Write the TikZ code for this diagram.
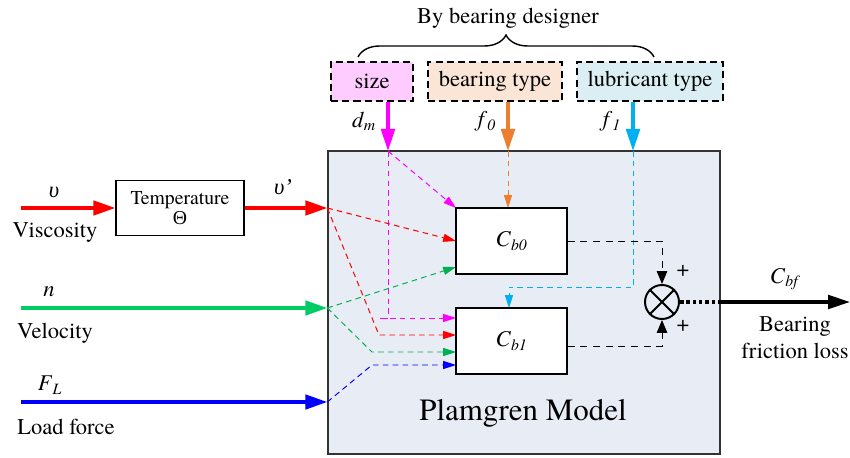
\documentclass[tikz,border=0pt]{standalone}
\usepackage{fontspec}
\setmainfont{TeX Gyre Termes}
\newfontfamily\greekfont{Liberation Serif}
\usepackage{tikz}
\usetikzlibrary{positioning,arrows.meta,calc,decorations.pathreplacing}
\usepackage{xcolor}
\definecolor{sizefill}{RGB}{255,204,255}
\definecolor{typefill}{RGB}{251,229,214}
\definecolor{lubfill}{RGB}{218,238,243}
\definecolor{modelfill}{RGB}{232,236,244}
\definecolor{magentac}{RGB}{255,0,255}
\definecolor{orangec}{RGB}{237,125,49}
\definecolor{cyanc}{RGB}{0,176,240}
\definecolor{greenc}{RGB}{0,204,102}
\definecolor{greend}{RGB}{0,176,80}
\definecolor{redc}{RGB}{255,0,0}
\definecolor{bluec}{RGB}{0,0,255}

\begin{document}
\fontsize{16}{19}\selectfont
\begin{tikzpicture}[>={Triangle[length=3.2mm,width=2mm]},
  blk/.style={draw,line width=1pt,fill=white,minimum width=2.775cm,minimum height=1.65cm},
  desbox/.style={draw,line width=1.3pt,dash pattern=on 5pt off 3pt,minimum height=0.975cm,inner sep=2pt},
  feed/.style={line width=2.5pt,-{Triangle[length=5.5mm,width=3.6mm]}},
  down/.style={line width=2.5pt,-{Triangle[length=5.5mm,width=3.4mm]}},
  sig/.style={line width=0.7pt,dash pattern=on 4pt off 3pt,->},
  outsig/.style={line width=0.7pt,dash pattern=on 5pt off 4pt,-{Triangle[length=3.2mm,width=2.6mm]}}]
\useasboundingbox (0,0) rectangle (21.25,11.425);
\node[draw=black!80,line width=1pt,fill=modelfill,minimum width=9.8cm,minimum height=7.575cm] (model) at (13.1,3.8625) {};
\node[font=\fontsize{22}{26}\selectfont] (modelname) at (13.075,1.1) {Plamgren Model};
\node[draw,line width=1pt,minimum width=3.2cm,minimum height=1.375cm,align=center,font=\fontsize{14}{14}\selectfont] (temp) at (4.5,6.225) {Temperature\\{\greekfont Θ}};
\node[desbox,fill=sizefill,minimum width=2.05cm] (size) at (9.3,9.3875) {size};
\node[desbox,fill=typefill,minimum width=3.35cm] (btype) at (12.375,9.3875) {bearing type};
\node[desbox,fill=lubfill,minimum width=3.65cm] (ltype) at (16.25,9.3875) {lubricant type};
\coordinate (bl) at (8.95,10.0);
\coordinate (br) at (16.35,10.0);
\draw[line width=1pt,decorate,decoration={brace,amplitude=0.55cm}] (bl) -- (br);
\node (designer) at (12.7,10.975) {By bearing designer};

\coordinate (vin) at (0.525,6.225);
\coordinate (nin) at (0.525,3.725);
\coordinate (fin) at (0.525,1.375);
\coordinate (vmod) at (model.west |- vin);
\coordinate (nmod) at (model.west |- nin);
\coordinate (fmod) at (model.west |- fin);
\coordinate (dm) at (9.7,7.65);
\coordinate (f0) at (12.7,7.65);
\coordinate (f1) at (15.825,7.65);
\coordinate (lub) at (12.725,4.25);
\coordinate (rk) at (9.475,3.05);
\coordinate (gk) at (9.3,2.625);
\coordinate (bk) at (9.3,2.3);

\draw[sig,magentac] (dm) -- (11.4,6.225);
\draw[sig,magentac] (dm) |- ($(rk)+(0,0.425)$) -- (11.4,3.475);
\draw[sig,orangec] (f0) -- (12.7,6.225);
\draw[sig,cyanc] (f1) |- (lub) -- (12.725,3.725);
\draw[sig,redc] (vmod) -- (11.4,5.4);
\draw[sig,redc] (vmod) -- (rk) -- (11.4,3.05);
\draw[sig,greend] (nmod) -- (11.4,4.75);
\draw[sig,greend] (nmod) -- (gk) -- (11.4,2.625);
\draw[sig,bluec] (fmod) -- (bk) -- (11.4,2.3);

\node[blk] (cb0) at (12.7875,5.4) {\textit{C}\textsubscript{\textit{b0}}};
\node[blk] (cb1) at (12.7875,2.9) {\textit{C}\textsubscript{\textit{b1}}};
\node[circle,draw,line width=1.4pt,minimum size=0.85cm,inner sep=0pt] (sum) at (16.55,3.875) {};
\draw[line width=1.4pt] (sum.45) -- (sum.225) (sum.135) -- (sum.315);
\draw[outsig] (cb0.east) -| (sum.north);
\draw[outsig] ($(cb1.east)+(0,-0.125)$) -| (sum.south);
\node (plus0) at (17.075,4.65) {+};
\node (plus1) at (17.075,3.275) {+};
\coordinate (mout) at (model.east |- sum);
\coordinate (out) at (21.25,3.875);
\draw[line width=2.5pt,dash pattern=on 2.5pt off 2pt] (sum.east) -- (mout);
\draw[down] (mout) -- (out) node[midway,above=2pt] (cbf) {\textit{C}\textsubscript{\textit{bf}}};
\node[align=center] (loss) at (19.875,2.975) {Bearing\\friction loss};

\draw[down,magentac] (size.south -| dm) -- (dm) node[pos=0.4,left=2pt,text=black] {\textit{d}\textsubscript{\textit{m}}};
\draw[down,orangec] (btype.south -| f0) -- (f0) node[pos=0.4,left=2pt,text=black] {\textit{f}\textsubscript{\textit{0}}};
\draw[down,cyanc] (ltype.south -| f1) -- (f1) node[pos=0.4,left=2pt,text=black] {\textit{f}\textsubscript{\textit{1}}};

\draw[feed,redc] (vin) -- (temp.west);
\draw[feed,redc] (temp.east) -- (vmod);
\draw[feed,greenc] (nin) -- (nmod);
\draw[feed,bluec] (fin) -- (fmod);
\node (upsilon) at (1.35,6.625) {\greekfont\itshape υ};
\node (upsilonp) at (7.075,6.75) {\greekfont\itshape υ’};
\node (visc) at (1.375,5.6) {Viscosity};
\node (nlabel) at (1.225,4.125) {\textit{n}};
\node (velo) at (1.375,3.1) {Velocity};
\node (fl) at (1.25,1.8) {\textit{F}\textsubscript{\textit{L}}};
\node (load) at (1.65,0.75) {Load force};
\end{tikzpicture}
\end{document}
